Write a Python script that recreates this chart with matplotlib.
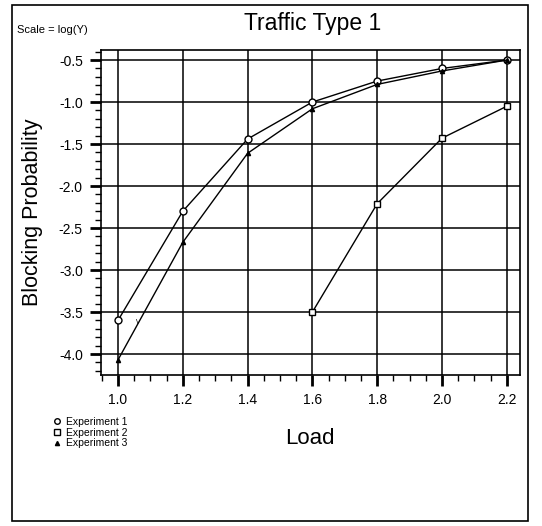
import matplotlib
matplotlib.use("Agg")
import matplotlib.pyplot as plt
from matplotlib.ticker import MultipleLocator, FormatStrFormatter
from matplotlib.lines import Line2D
from matplotlib.patches import Rectangle

plt.rcParams['font.family'] = ['Liberation Sans', 'DejaVu Sans']

load = [1.0, 1.2, 1.4, 1.6, 1.8, 2.0, 2.2]
exp1 = [-3.6, -2.3, -1.44, -1.0, -0.75, -0.6, -0.5]
exp3 = [-4.07, -2.67, -1.61, -1.08, -0.79, -0.63, -0.5]
load2 = [1.6, 1.8, 2.0, 2.2]
exp2 = [-3.5, -2.21, -1.43, -1.05]
xticks = [1.0, 1.2, 1.4, 1.6, 1.8, 2.0, 2.2]
yticks = [-4.0, -3.5, -3.0, -2.5, -2.0, -1.5, -1.0, -0.5]

fig = plt.figure(figsize=(5.42, 5.26), dpi=100)
ax = fig.add_axes([0.186, 0.287, 0.773, 0.618])

ax.plot(load, exp1, color='black', lw=1.0, marker='o', ms=5, mfc='white', mec='black', mew=1.0, zorder=3)
ax.plot(load, exp3, color='black', lw=1.0, marker='^', ms=3, mfc='black', mec='black', zorder=3)
ax.plot(load2, exp2, color='black', lw=1.0, marker='s', ms=5, mfc='white', mec='black', mew=1.0, zorder=3)
ax.text(1.06, -3.63, '\\', fontsize=6, ha='center', va='center')

ax.set_xlim(0.947, 2.24)
ax.set_ylim(-4.25, -0.38)
ax.set_xticks(xticks)
ax.set_yticks(yticks)
ax.xaxis.set_minor_locator(MultipleLocator(0.05))
ax.yaxis.set_minor_locator(MultipleLocator(0.1))
ax.xaxis.set_major_formatter(FormatStrFormatter('%.1f'))
ax.yaxis.set_major_formatter(FormatStrFormatter('%.1f'))
ax.tick_params(which='major', direction='out', length=8, width=2, labelsize=10, pad=5)
ax.tick_params(which='minor', direction='out', length=4, width=1)
ax.grid(True, which='major', color='black', lw=1.1)
for s in ax.spines.values():
    s.set_linewidth(1.2)

ax.set_xlabel('Load', fontsize=16, labelpad=15)
ax.set_ylabel('Blocking Probability', fontsize=15.5, labelpad=11)

fig.text(0.576, 0.956, 'Traffic Type 1', fontsize=16.5, ha='center', va='center')
fig.text(0.032, 0.943, 'Scale = log(Y)', fontsize=8, ha='left', va='center')

handles = [
    Line2D([], [], ls='none', marker='o', ms=4, mfc='white', mec='black'),
    Line2D([], [], ls='none', marker='s', ms=4, mfc='white', mec='black'),
    Line2D([], [], ls='none', marker='^', ms=3, mfc='black', mec='black'),
]
leg = fig.legend(handles, ['Experiment 1', 'Experiment 2', 'Experiment 3'],
                 loc='upper left', bbox_to_anchor=(0.098, 0.207), frameon=False,
                 fontsize=7.5, handlelength=0.8, handletextpad=0.4,
                 labelspacing=0.05, borderpad=0, borderaxespad=0)

fig.patches.append(Rectangle((0.022, 0.01), 0.952, 0.98, transform=fig.transFigure,
                             fill=False, ec='black', lw=1.2))

fig.savefig('out.png', dpi=100)
